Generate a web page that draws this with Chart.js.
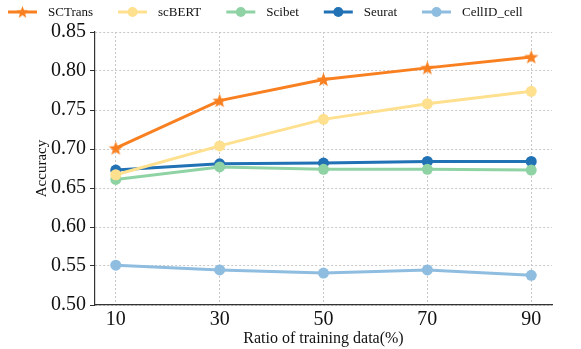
<!DOCTYPE html>
<html>
<head>
<meta charset="utf-8">
<script src="https://cdn.jsdelivr.net/npm/chart.js@4.4.1/dist/chart.umd.min.js"></script>
<style>
  html, body { margin: 0; padding: 0; background: #fff; }
  #wrap { width: 581px; height: 349px; }
</style>
</head>
<body>
<div id="wrap"><canvas id="accChart"></canvas></div>
<script>
// data
const ratios = [10, 30, 50, 70, 90];
const yTicks = [0.50, 0.55, 0.60, 0.65, 0.70, 0.75, 0.80, 0.85];
const methods = ["SCTrans", "scBERT", "Scibet", "Seurat", "CellID_cell"];
const sctrans = [0.701, 0.762, 0.789, 0.804, 0.818];
const scbert = [0.667, 0.704, 0.738, 0.758, 0.774];
const scibet = [0.661, 0.677, 0.674, 0.674, 0.673];
const seurat = [0.673, 0.681, 0.682, 0.684, 0.684];
const cellid = [0.551, 0.545, 0.541, 0.545, 0.538];

const colors = ["#f98020", "#fee08e", "#8fd3a5", "#2171b5", "#8fbde0"];
const seriesList = [sctrans, scbert, scibet, seurat, cellid];
const serif = "'Liberation Serif', 'Times New Roman', serif";

// filled five-point star marker (chart.js "star" is an asterisk)
function makeStar(color, r) {
    const cv = document.createElement("canvas");
    const s = Math.ceil(r * 2 + 2);
    cv.width = s; cv.height = s;
    const g = cv.getContext("2d");
    g.fillStyle = color;
    g.beginPath();
    for (let k = 0; k < 10; k++) {
        const rad = k % 2 === 0 ? r : r * 0.42;
        const a = -Math.PI / 2 + k * Math.PI / 5;
        g.lineTo(s / 2 + rad * Math.cos(a), s / 2 + 0.5 + rad * Math.sin(a));
    }
    g.closePath();
    g.fill();
    return cv;
}
const starImg = makeStar(colors[0], 7.5);
const starSmall = makeStar(colors[0], 6.5);

const datasets = methods.map((m, i) => ({
    label: m,
    data: seriesList[i].map((v, j) => ({ x: ratios[j], y: v })),
    borderColor: colors[i],
    backgroundColor: colors[i],
    borderWidth: 3,
    pointStyle: i === 0 ? starImg : "circle",
    pointRadius: 5.5,
    pointBorderWidth: 0,
    order: i === 0 ? 0 : i + 1
}));

// matplotlib-like legend: short line with marker, then the label
const lineLegend = {
    id: "lineLegend",
    afterDraw(chart) {
        const c = chart.ctx;
        c.save();
        c.font = "13px " + serif;
        c.textBaseline = "middle";
        let x = 8;
        const y = 12;
        chart.data.datasets.forEach((ds, i) => {
            c.strokeStyle = ds.borderColor;
            c.fillStyle = ds.borderColor;
            c.lineWidth = 3;
            c.beginPath();
            c.moveTo(x, y);
            c.lineTo(x + 29, y);
            c.stroke();
            if (i === 0) {
                c.drawImage(starSmall, x + 14.5 - starSmall.width / 2, y - starSmall.height / 2);
            } else {
                c.beginPath();
                c.arc(x + 14.5, y, 5, 0, Math.PI * 2);
                c.fill();
            }
            c.fillStyle = "#111";
            c.fillText(ds.label, x + 40, y + 1);
            x += 40 + c.measureText(ds.label).width + 25;
        });
        c.restore();
    }
};

const ctx = document.getElementById("accChart").getContext("2d");

new Chart(ctx, {
    type: "line",
    data: { datasets: datasets },
    plugins: [lineLegend],
    options: {
        responsive: true,
        maintainAspectRatio: false,
        animation: false,
        layout: { padding: { top: 32, right: 29, left: 33, bottom: 1 } },
        plugins: {
            legend: { display: false },
            tooltip: { enabled: false }
        },
        scales: {
            x: {
                type: "linear",
                min: 6,
                max: 94,
                afterBuildTicks: (s) => { s.ticks = ratios.map(v => ({ value: v })); },
                afterFit: (s) => { s.height = 43; },
                grid: { color: "#c8c8c8", lineWidth: 1, drawTicks: false },
                border: { color: "#333", width: 1.2, dash: [2, 2] },
                ticks: { color: "#111", font: { family: serif, size: 20 }, padding: 3, maxRotation: 0 },
                title: { display: true, text: "Ratio of training data(%)", color: "#111",
                         font: { family: serif, size: 16 }, padding: { top: 0, bottom: 0 } }
            },
            y: {
                min: 0.5,
                max: 0.85,
                afterBuildTicks: (s) => { s.ticks = yTicks.map(v => ({ value: v })); },
                afterFit: (s) => { s.width = 62; },
                grid: { color: "#c8c8c8", lineWidth: 1, tickColor: "#333", tickLength: 5, tickWidth: 1 },
                border: { color: "#333", width: 1.2, dash: [2, 2] },
                ticks: { color: "#111", font: { family: serif, size: 20 }, padding: 4,
                         callback: (v) => Number(v).toFixed(2) },
                title: { display: true, text: "Accuracy", color: "#111",
                         font: { family: serif, size: 15 }, padding: { top: 0, bottom: 0 } }
            }
        }
    }
});
</script>
</body>
</html>
